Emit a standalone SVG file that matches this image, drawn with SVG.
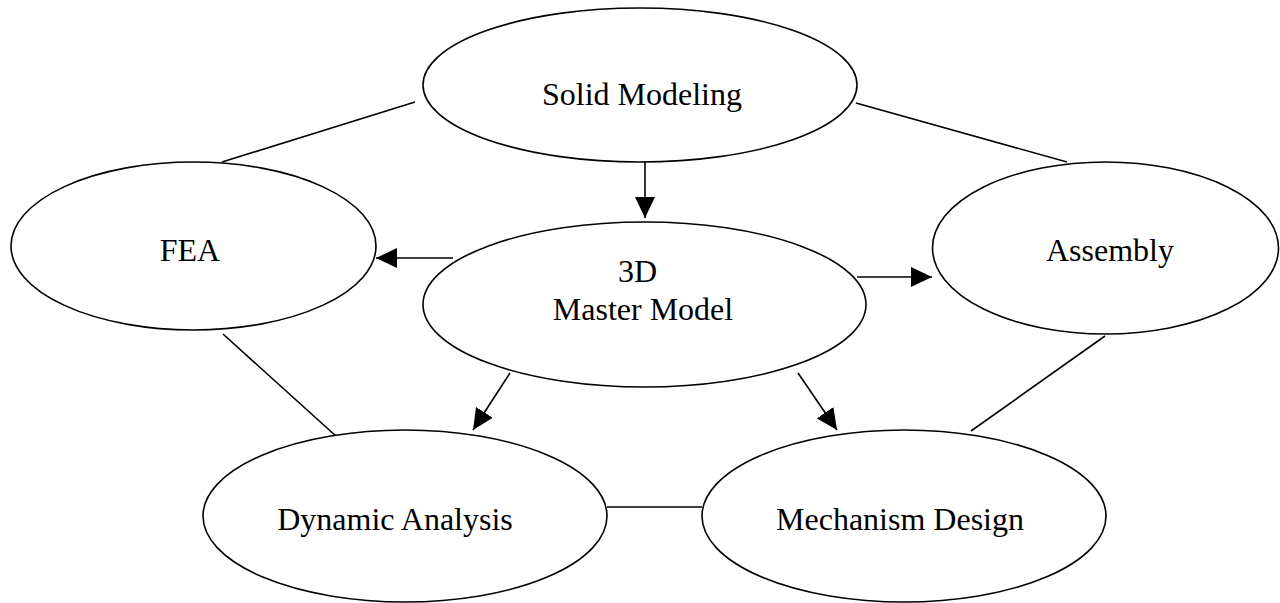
<svg xmlns="http://www.w3.org/2000/svg" width="1280" height="603" viewBox="0 0 1280 603">
<style>
.node ellipse{fill:#fff;stroke:#000;stroke-width:1.6}
.node text{font-family:"Liberation Serif","Times New Roman",serif;font-size:32px;fill:#000;text-anchor:middle}
#connectors line{stroke:#000;stroke-width:1.6}
</style>
<defs>
<marker id="arrow" markerUnits="userSpaceOnUse" markerWidth="21" markerHeight="20" refX="21" refY="10" orient="auto" viewBox="0 0 21 20">
<path d="M0,0 L21,10 L0,20 z" fill="#000"/>
</marker>
</defs>
<rect width="1280" height="603" fill="#fff"/>
<g id="connectors">
<line x1="415" y1="102" x2="222" y2="162"/>
<line x1="856" y1="103" x2="1067" y2="162"/>
<line x1="223" y1="334" x2="337" y2="437"/>
<line x1="1105" y1="336" x2="971" y2="431"/>
<line x1="607" y1="507" x2="702" y2="507"/>
<line x1="645" y1="162" x2="645" y2="218" marker-end="url(#arrow)"/>
<line x1="453" y1="258" x2="376" y2="258" marker-end="url(#arrow)"/>
<line x1="857" y1="277" x2="932" y2="277" marker-end="url(#arrow)"/>
<line x1="510" y1="373" x2="473" y2="430" marker-end="url(#arrow)"/>
<line x1="798" y1="373" x2="837" y2="430" marker-end="url(#arrow)"/>
</g>
<g id="solid-modeling" class="node">
<ellipse cx="640" cy="85" rx="217" ry="77"/>
<text x="642" y="105">Solid Modeling</text>
</g>
<g id="fea" class="node">
<ellipse cx="193.5" cy="246" rx="182.5" ry="84"/>
<text x="190" y="261">FEA</text>
</g>
<g id="master-model" class="node">
<ellipse cx="644.5" cy="304.5" rx="221.5" ry="82.5"/>
<text x="637.5" y="282">3D</text>
<text x="643" y="320">Master Model</text>
</g>
<g id="assembly" class="node">
<ellipse cx="1105.5" cy="248" rx="173" ry="86"/>
<text x="1110" y="261">Assembly</text>
</g>
<g id="dynamic-analysis" class="node">
<ellipse cx="405" cy="516" rx="202" ry="86"/>
<text x="395" y="530">Dynamic Analysis</text>
</g>
<g id="mechanism-design" class="node">
<ellipse cx="904" cy="516" rx="202" ry="86"/>
<text x="900" y="530">Mechanism Design</text>
</g>
</svg>
